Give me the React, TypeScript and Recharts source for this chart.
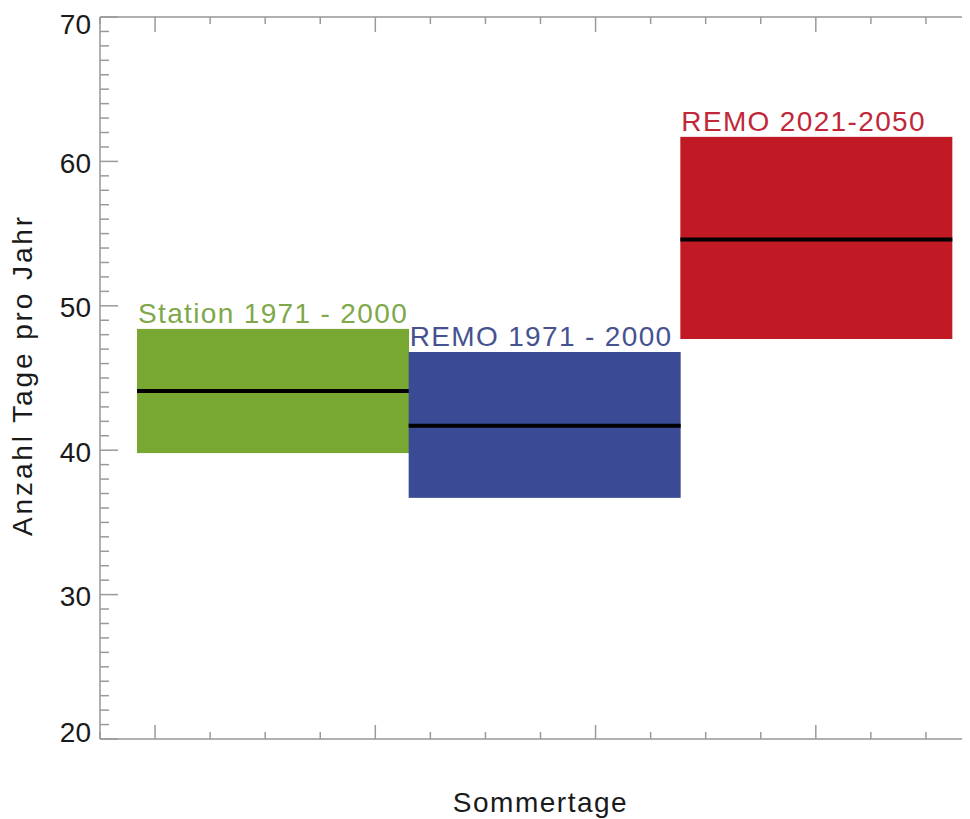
import { ComposedChart, Bar, XAxis, YAxis, Label } from 'recharts'

// Sommertage: Anzahl Tage pro Jahr (Spannweite + Median)
const categories = ['Station 1971 - 2000', 'REMO 1971 - 2000', 'REMO 2021-2050']
const lowValues = [39.8, 36.7, 47.7]
const highValues = [48.4, 46.8, 61.7]
const medianValues = [44.1, 41.7, 54.6]

const yMajorTicks = [20, 30, 40, 50, 60, 70]
const yTicks = Array.from({ length: 51 }, (_, i) => 20 + i)
const xMajorTicks = [1, 2, 3, 4]
const xTicks = [0.75, 1, 1.25, 1.5, 1.75, 2, 2.25, 2.5, 2.75, 3, 3.25, 3.5, 3.75, 4, 4.25, 4.5, 4.75]

const boxColors = ['#78a831', '#3a4a95', '#c11a24']
const labelColors = ['#7ea84a', '#46528f', '#c0283a']

const data = categories.map((name, i) => ({
  name,
  range: [lowValues[i], highValues[i]],
  median: medianValues[i],
  idx: i,
}))

const AXIS = '#b0b0b0'
const TICK = '#9a9a9a'
const FONT = '"Liberation Sans", Arial, sans-serif'

function LeftTick({ x, y, payload }: any) {
  const v = payload.value
  const major = yMajorTicks.includes(v)
  const shift = v === 70 ? 7 : v === 20 ? -7 : 1.5
  return (
    <g>
      <line x1={x} x2={x + (major ? 18 : 9)} y1={y} y2={y} stroke={TICK} strokeWidth={1.5} />
      {major && (
        <text x={x - 9} y={y + shift} dy="0.355em" textAnchor="end" fontSize={28} fill="#1a1a1a">
          {v}
        </text>
      )}
    </g>
  )
}

function RightTick({ x, y, payload }: any) {
  const major = yMajorTicks.includes(payload.value)
  return <line x1={x} x2={x - (major ? 18 : 9)} y1={y} y2={y} stroke={TICK} strokeWidth={1.5} />
}

function BottomTick({ x, y, payload }: any) {
  const major = xMajorTicks.includes(payload.value)
  return <line x1={x} x2={x} y1={y} y2={y - (major ? 14 : 7)} stroke={TICK} strokeWidth={1.5} />
}

function TopTick({ x, y, payload }: any) {
  const major = xMajorTicks.includes(payload.value)
  return <line x1={x} x2={x} y1={y} y2={y + (major ? 15 : 7)} stroke={TICK} strokeWidth={1.5} />
}

function BoxShape(props: any) {
  const { x, y, width, height, payload } = props
  const top = Math.min(y, y + height)
  const h = Math.abs(height)
  const [lo, hi] = payload.range
  const my = top + (h * (hi - payload.median)) / (hi - lo)
  const i = payload.idx
  return (
    <g>
      <rect x={x} y={top} width={width} height={h} fill={boxColors[i]} />
      <line x1={x} x2={x + width} y1={my} y2={my} stroke="#000" strokeWidth={4} />
      <text x={x + 1} y={top - 6} fontSize={28} letterSpacing={1.35} fill={labelColors[i]}>
        {payload.name}
      </text>
    </g>
  )
}

export default function App() {
  return (
    <div style={{ width: 962, height: 811, overflow: 'hidden' }}>
      <ComposedChart
        width={1000}
        height={811}
        data={data}
        margin={{ top: 8, right: 26, bottom: 79, left: 91 }}
        barCategoryGap={0}
        barGap={0}
        style={{ fontFamily: FONT }}
      >
        <XAxis xAxisId="cat" dataKey="name" type="category" hide padding={{ left: 37, right: 29 }} />
        <XAxis
          xAxisId="bottom"
          dataKey="idx"
          type="number"
          domain={[0.75, 4.75]}
          allowDataOverflow
          ticks={xTicks}
          interval={0}
          height={1}
          tickSize={0}
          tickMargin={0}
          tickLine={false}
          tick={<BottomTick />}
          axisLine={{ stroke: AXIS, strokeWidth: 2 }}
        >
          <Label
            content={({ viewBox }: any) => (
              <text
                x={viewBox.x + viewBox.width / 2}
                y={viewBox.y + 73}
                textAnchor="middle"
                fontSize={28}
                letterSpacing={1.5}
                fill="#1a1a1a"
              >
                Sommertage
              </text>
            )}
          />
        </XAxis>
        <XAxis
          xAxisId="top"
          orientation="top"
          dataKey="idx"
          type="number"
          domain={[0.75, 4.75]}
          allowDataOverflow
          ticks={xTicks}
          interval={0}
          height={1}
          tickSize={0}
          tickMargin={0}
          tickLine={false}
          tick={<TopTick />}
          axisLine={{ stroke: AXIS, strokeWidth: 2 }}
        />
        <YAxis
          yAxisId="left"
          type="number"
          domain={[20, 70]}
          allowDataOverflow
          ticks={yTicks}
          interval={0}
          width={1}
          tickSize={0}
          tickMargin={0}
          tickLine={false}
          tick={<LeftTick />}
          axisLine={{ stroke: AXIS, strokeWidth: 2 }}
        >
          <Label
            content={({ viewBox }: any) => {
              const cx = viewBox.x - 67
              const cy = viewBox.y + viewBox.height / 2 - 3
              return (
                <text
                  x={cx}
                  y={cy}
                  transform={`rotate(-90 ${cx} ${cy})`}
                  textAnchor="middle"
                  fontSize={28}
                  letterSpacing={2.9}
                  fill="#1a1a1a"
                >
                  Anzahl Tage pro Jahr
                </text>
              )
            }}
          />
        </YAxis>
        <YAxis
          yAxisId="right"
          orientation="right"
          type="number"
          domain={[20, 70]}
          allowDataOverflow
          ticks={yTicks}
          interval={0}
          width={1}
          tickSize={0}
          tickMargin={0}
          tickLine={false}
          tick={<RightTick />}
          axisLine={{ stroke: AXIS, strokeWidth: 2 }}
        />
        <Bar
          xAxisId="cat"
          yAxisId="left"
          dataKey="range"
          shape={<BoxShape />}
          isAnimationActive={false}
        />
      </ComposedChart>
    </div>
  )
}
